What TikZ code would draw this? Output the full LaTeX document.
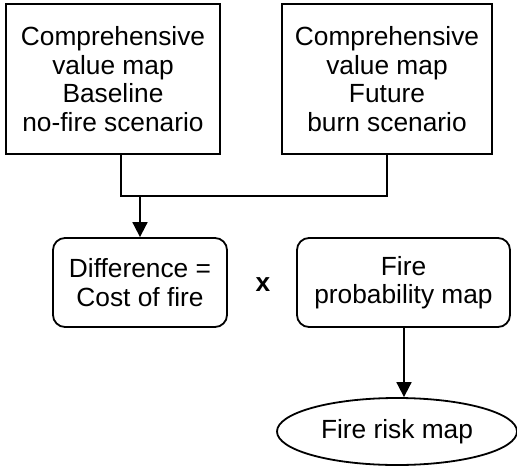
\documentclass[tikz,border=0pt]{standalone}
\usepackage{fontspec}
\setmainfont{Liberation Sans}
\usetikzlibrary{shapes.geometric,arrows.meta}
\begin{document}
\begin{tikzpicture}[x=1pt,y=-1pt,
  every node/.style={font=\fontsize{26.3}{28.5}\selectfont, inner sep=0pt, align=center},
  sqbox/.style={draw, line width=1.8pt, rectangle},
  rbox/.style={draw, line width=1.8pt, rectangle, rounded corners=12pt},
  oval/.style={draw, line width=1.8pt, ellipse},
  conn/.style={line width=1.8pt},
  arr/.style={line width=1.8pt, -{Triangle[length=15pt,width=15pt]}}]
\useasboundingbox (0,0) rectangle (517,466);
\node[sqbox, minimum width=214pt, minimum height=150pt] (lb) at (113,79)
  {Comprehensive\\value map\\Baseline\\no-fire scenario};
\node[sqbox, minimum width=210pt, minimum height=150pt] (rb) at (387,79)
  {Comprehensive\\value map\\Future\\burn scenario};
\node[rbox, minimum width=174pt, minimum height=89pt] (diff) at (140,282.5)
  {Difference =\\Cost of fire};
\node[rbox, minimum width=213pt, minimum height=89pt] (fp) at (403.5,282.5)
  {Fire\\probability map};
\node[font=\bfseries\fontsize{26.3}{28.5}\selectfont] (times) at (263,285) {x};
\node[oval, minimum width=240pt, minimum height=67pt] (risk) at (397,431.5) {Fire risk map};
\coordinate (j) at (140,196);
\draw[conn] ([xshift=8pt]lb.south) |- (j) -| (rb.south);
\draw[arr] (j) -- (diff.north);
\draw[arr] ([xshift=0.5pt]fp.south) -- ([xshift=0.5pt]fp.south |- risk.north);
\end{tikzpicture}
\end{document}
